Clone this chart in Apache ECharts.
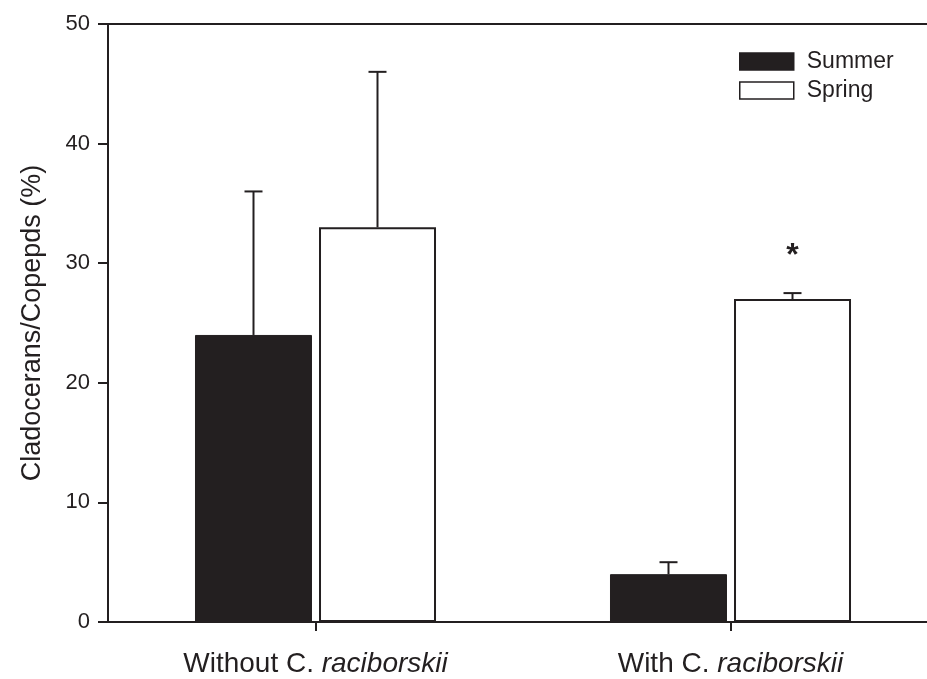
<!DOCTYPE html>
<html>
<head>
<meta charset="utf-8">
<script src="https://cdn.jsdelivr.net/npm/echarts@6/dist/echarts.min.js"></script>
<style>
  html, body { margin: 0; padding: 0; background: #fff; }
  #chart { width: 927px; height: 679px; }
</style>
</head>
<body>
<div id="chart"></div>
<script>
// Treatments along the x axis
const categories = ['Without', 'With'];
const speciesName = 'raciborskii';

// Means and standard errors (%)
const summerMean = [24, 4];
const summerErr = [12, 1];
const springMean = [33, 27];
const springErr = [13, 0.5];

// Significance marks drawn above the spring bars
const springSig = ['', '*'];

const yTicks = [0, 10, 20, 30, 40, 50];

const INK = '#231f20';
const FONT = '"Liberation Sans", Arial, Helvetica, sans-serif';
const BAR_W = 117;
const BAR_SHIFT = 62; // half of bar width plus half gap

function errorSeries(name, means, errs, marks, shift) {
  return {
    type: 'custom',
    name: name + ' SE',
    silent: true,
    z: 5,
    data: means.map((m, i) => [i, m, m + errs[i]]),
    renderItem: function (params, api) {
      const base = api.coord([api.value(0), api.value(1)]);
      const top = api.coord([api.value(0), api.value(2)]);
      const x = base[0] + shift;
      const children = [
        { type: 'line', shape: { x1: x, y1: base[1], x2: x, y2: top[1] },
          style: { stroke: INK, lineWidth: 2 } },
        { type: 'line', shape: { x1: x - 9, y1: top[1], x2: x + 9, y2: top[1] },
          style: { stroke: INK, lineWidth: 2 } }
      ];
      const mark = marks ? marks[params.dataIndex] : '';
      if (mark) {
        children.push({
          type: 'text',
          style: {
            text: mark, x: x, y: top[1] - 37,
            align: 'center', verticalAlign: 'middle',
            font: 'bold 32px ' + FONT,
            fill: INK
          }
        });
      }
      return { type: 'group', children: children };
    }
  };
}

const chart = echarts.init(document.getElementById('chart'));
chart.setOption({
  animation: false,
  backgroundColor: '#fff',
  textStyle: { fontFamily: FONT, color: INK },
  grid: {
    left: 108, width: 830, top: 24, bottom: 57,
    outerBoundsMode: 'none',
    show: true, borderColor: INK, borderWidth: 2, backgroundColor: 'transparent',
    containLabel: false
  },
  legend: {
    left: 734, top: 45,
    orient: 'vertical',
    itemWidth: 54, itemHeight: 17, itemGap: 6,
    icon: 'rect',
    textStyle: { fontSize: 23, color: INK, fontFamily: FONT, padding: [0, 0, 0, 8] },
    data: [
      { name: 'Summer', itemStyle: { color: INK, borderColor: INK, borderWidth: 1.5 } },
      { name: 'Spring', itemStyle: { color: '#fff', borderColor: INK, borderWidth: 1.5 } }
    ]
  },
  xAxis: {
    type: 'category',
    data: categories,
    axisLine: { lineStyle: { color: INK, width: 2 } },
    axisTick: { show: true, alignWithLabel: true, length: 9, lineStyle: { color: INK, width: 2 } },
    axisLabel: {
      margin: 28,
      formatter: v => '{n|' + v + ' C. }{i|' + speciesName + '}',
      rich: {
        n: { fontSize: 28, color: INK, fontFamily: FONT },
        i: { fontSize: 28, color: INK, fontStyle: 'italic', fontFamily: FONT }
      }
    }
  },
  yAxis: {
    type: 'value',
    min: yTicks[0], max: yTicks[yTicks.length - 1], interval: 10,
    name: 'Cladocerans/Copepds (%)',
    nameLocation: 'middle',
    nameGap: 62,
    nameTextStyle: { fontSize: 27, color: INK, fontFamily: FONT },
    axisLine: { show: true, lineStyle: { color: INK, width: 2 } },
    axisTick: { show: true, length: 10, lineStyle: { color: INK, width: 2 } },
    axisLabel: { fontSize: 22, color: INK, margin: 18, fontFamily: FONT },
    splitLine: { show: false }
  },
  series: [
    {
      name: 'Summer', type: 'bar', data: summerMean,
      barWidth: BAR_W, barGap: '6%',
      itemStyle: { color: INK, borderColor: INK, borderWidth: 1 }
    },
    {
      name: 'Spring', type: 'bar', data: springMean,
      barWidth: BAR_W, barGap: '6%',
      itemStyle: { color: '#fff', borderColor: INK, borderWidth: 2 }
    },
    errorSeries('Summer', summerMean, summerErr, null, -BAR_SHIFT),
    errorSeries('Spring', springMean, springErr, springSig, BAR_SHIFT)
  ]
});
</script>
</body>
</html>
